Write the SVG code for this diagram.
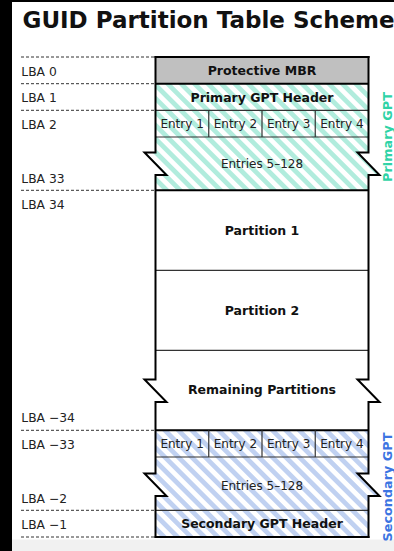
<svg xmlns="http://www.w3.org/2000/svg" width="394" height="551" viewBox="0 0 394 551">
<style>
  text { font-family: "DejaVu Sans", "Liberation Sans", sans-serif; }
  .lba { font-size: 12.3px; fill: #222; }
  .bold { font-size: 12.5px; font-weight: bold; fill: #111; text-anchor: middle; }
  .reg { font-size: 12px; fill: #222; text-anchor: middle; }
  .guide { stroke: #333; stroke-width: 1; stroke-dasharray: 3 2; fill: none; }
  .div { stroke: #333; stroke-width: 1.2; fill: none; }
  .thick { stroke: #000; stroke-width: 2; fill: none; }
  .outline { stroke: #000; stroke-width: 2; fill: none; stroke-linejoin: miter; stroke-linecap: square; }
  .side { font-size: 12.8px; font-weight: bold; text-anchor: middle; }
</style>
<defs>
  <pattern id="hatchTeal" patternUnits="userSpaceOnUse" width="9.5" height="9.5" patternTransform="rotate(-45)">
    <rect width="9.5" height="9.5" fill="#ffffff"/>
    <rect width="4.75" height="9.5" fill="#b1ecdd"/>
  </pattern>
  <pattern id="hatchBlue" patternUnits="userSpaceOnUse" width="9.5" height="9.5" patternTransform="rotate(-45)">
    <rect width="9.5" height="9.5" fill="#ffffff"/>
    <rect width="4.75" height="9.5" fill="#c0d1f1"/>
  </pattern>
</defs>
<rect width="394" height="551" fill="#ffffff"/>
<rect x="0" y="0" width="12" height="551" fill="#000"/>
<rect x="0" y="0" width="394" height="2" fill="#000"/>
<rect x="12" y="539.5" width="382" height="11.5" fill="#f1f1f1"/>

<text id="title" x="22.5" y="28" font-size="23" font-weight="bold" fill="#111">GUID Partition Table Scheme</text>

<g id="guides">
  <line class="guide" x1="21" y1="57" x2="155" y2="57"/>
  <line class="guide" x1="21" y1="83.7" x2="155" y2="83.7"/>
  <line class="guide" x1="21" y1="110.3" x2="155" y2="110.3"/>
  <line class="guide" x1="21" y1="190.3" x2="155" y2="190.3"/>
  <line class="guide" x1="21" y1="430.3" x2="155" y2="430.3"/>
  <line class="guide" x1="21" y1="510.3" x2="155" y2="510.3"/>
  <line class="guide" x1="21" y1="537" x2="155" y2="537"/>
</g>

<g id="lba-labels">
  <text class="lba" x="21.3" y="75.7">LBA 0</text>
  <text class="lba" x="21.3" y="102.3">LBA 1</text>
  <text class="lba" x="21.3" y="129">LBA 2</text>
  <text class="lba" x="21.3" y="182.7">LBA 33</text>
  <text class="lba" x="21.3" y="209">LBA 34</text>
  <text class="lba" x="21.3" y="422.3">LBA −34</text>
  <text class="lba" x="21.3" y="449">LBA −33</text>
  <text class="lba" x="21.3" y="502.7">LBA −2</text>
  <text class="lba" x="21.3" y="529.3">LBA −1</text>
</g>

<g id="protective-mbr">
  <rect x="155.5" y="57" width="213" height="26.7" fill="#c0c0c0"/>
  <text class="bold" x="262" y="75.3">Protective MBR</text>
</g>

<g id="primary-gpt-fill">
  <polygon points="155.5,83.7 368.5,83.7 368.5,152.5 357.5,152.5 379.5,175 368.5,175 368.5,190.3 155.5,190.3 155.5,175 166.5,175 144.5,152.5 155.5,152.5" fill="url(#hatchTeal)"/>
</g>
<g id="primary-gpt-header">
  <text class="bold" x="262" y="101.5">Primary GPT Header</text>
</g>
<g id="primary-entries-1-4">
  <text class="reg" x="182.1" y="128">Entry 1</text>
  <text class="reg" x="235.4" y="128">Entry 2</text>
  <text class="reg" x="288.6" y="128">Entry 3</text>
  <text class="reg" x="341.9" y="128">Entry 4</text>
</g>
<g id="primary-entries-5-128">
  <text class="reg" x="262" y="168">Entries 5–128</text>
</g>

<g id="partition-1">
  <text class="bold" x="262" y="234.5">Partition 1</text>
</g>
<g id="partition-2">
  <text class="bold" x="262" y="314.5">Partition 2</text>
</g>
<g id="remaining-partitions">
  <text class="bold" x="262" y="394.3">Remaining Partitions</text>
</g>

<g id="secondary-gpt-fill">
  <polygon points="155.5,430.3 368.5,430.3 368.5,473.5 357.5,473.5 379.5,496 368.5,496 368.5,537 155.5,537 155.5,496 166.5,496 144.5,473.5 155.5,473.5" fill="url(#hatchBlue)"/>
</g>
<g id="secondary-entries-1-4">
  <text class="reg" x="182.1" y="448">Entry 1</text>
  <text class="reg" x="235.4" y="448">Entry 2</text>
  <text class="reg" x="288.6" y="448">Entry 3</text>
  <text class="reg" x="341.9" y="448">Entry 4</text>
</g>
<g id="secondary-entries-5-128">
  <text class="reg" x="262" y="489.5">Entries 5–128</text>
</g>
<g id="secondary-gpt-header">
  <text class="bold" x="262" y="528">Secondary GPT Header</text>
</g>

<g id="dividers">
  <line class="thick" x1="155.5" y1="83.7" x2="368.5" y2="83.7"/>
  <line class="div" x1="155.5" y1="110.3" x2="368.5" y2="110.3"/>
  <line class="div" x1="155.5" y1="137" x2="368.5" y2="137"/>
  <line class="div" x1="208.75" y1="110.3" x2="208.75" y2="137"/>
  <line class="div" x1="262" y1="110.3" x2="262" y2="137"/>
  <line class="div" x1="315.25" y1="110.3" x2="315.25" y2="137"/>
  <line class="thick" x1="155.5" y1="190.3" x2="368.5" y2="190.3"/>
  <line class="div" x1="155.5" y1="270.3" x2="368.5" y2="270.3"/>
  <line class="div" x1="155.5" y1="350.3" x2="368.5" y2="350.3"/>
  <line class="thick" x1="155.5" y1="430.3" x2="368.5" y2="430.3"/>
  <line class="div" x1="155.5" y1="457" x2="368.5" y2="457"/>
  <line class="div" x1="208.75" y1="430.3" x2="208.75" y2="457"/>
  <line class="div" x1="262" y1="430.3" x2="262" y2="457"/>
  <line class="div" x1="315.25" y1="430.3" x2="315.25" y2="457"/>
  <line class="div" x1="155.5" y1="510.3" x2="368.5" y2="510.3"/>
</g>

<g id="outline">
  <line class="outline" x1="155.5" y1="57" x2="368.5" y2="57"/>
  <line class="outline" x1="155.5" y1="537" x2="368.5" y2="537"/>
  <polyline class="outline" points="155.5,57 155.5,152.5 144.5,152.5 166.5,175 155.5,175 155.5,379.5 144.5,379.5 166.5,402 155.5,402 155.5,473.5 144.5,473.5 166.5,496 155.5,496 155.5,537"/>
  <polyline class="outline" points="368.5,57 368.5,152.5 357.5,152.5 379.5,175 368.5,175 368.5,379.5 357.5,379.5 379.5,402 368.5,402 368.5,473.5 357.5,473.5 379.5,496 368.5,496 368.5,537"/>
</g>

<g id="side-labels">
  <text class="side" fill="#2fd3a6" transform="translate(391.5,137) rotate(-90)">Primary GPT</text>
  <text class="side" fill="#3c74e2" transform="translate(391.5,487) rotate(-90)">Secondary GPT</text>
</g>
</svg>
